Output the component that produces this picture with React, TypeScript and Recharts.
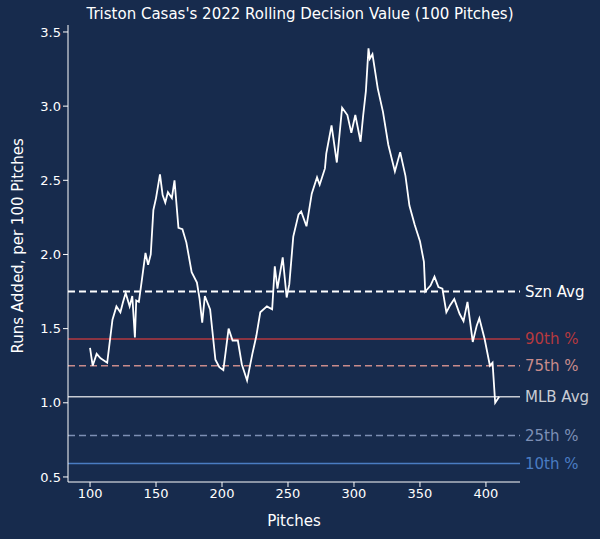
import { LineChart, Line, XAxis, YAxis, ReferenceLine } from "recharts";

const pitches = [100, 101, 102, 105, 108, 113, 117, 120, 123, 125, 127, 130, 132, 134, 135, 137, 139, 142, 144, 146, 148, 150, 153, 155, 157, 159, 162, 164, 167, 170, 173, 177, 181, 183, 185, 187, 191, 195, 198, 201, 205, 208, 212, 215, 219, 223, 226, 229, 234, 238, 240, 242, 246, 249, 251, 254, 258, 260, 264, 268, 272, 274, 278, 279, 283, 287, 291, 295, 298, 301, 305, 307, 309, 311, 312, 314, 318, 322, 326, 331, 335, 339, 342, 346, 350, 353, 354, 358, 361, 364, 367, 370, 373, 376, 380, 383, 386, 390, 393, 395, 399, 403, 405, 407, 410];
const values = [1.37, 1.31, 1.25, 1.33, 1.3, 1.27, 1.56, 1.65, 1.61, 1.68, 1.74, 1.65, 1.72, 1.44, 1.69, 1.68, 1.81, 2.01, 1.93, 2.0, 2.3, 2.38, 2.54, 2.4, 2.35, 2.42, 2.38, 2.5, 2.18, 2.17, 2.08, 1.88, 1.81, 1.7, 1.54, 1.72, 1.63, 1.29, 1.24, 1.22, 1.5, 1.42, 1.42, 1.26, 1.15, 1.33, 1.45, 1.61, 1.65, 1.63, 1.92, 1.77, 1.98, 1.71, 1.8, 2.12, 2.27, 2.29, 2.19, 2.41, 2.52, 2.47, 2.58, 2.68, 2.87, 2.62, 2.99, 2.94, 2.82, 2.94, 2.76, 2.94, 3.1, 3.39, 3.32, 3.35, 3.12, 2.96, 2.74, 2.56, 2.69, 2.53, 2.33, 2.2, 2.09, 1.95, 1.75, 1.79, 1.85, 1.78, 1.77, 1.61, 1.66, 1.7, 1.6, 1.55, 1.68, 1.41, 1.52, 1.57, 1.43, 1.25, 1.27, 1.0, 1.04];

const refNames = ["Szn Avg", "90th %", "75th %", "MLB Avg", "25th %", "10th %"];
const refValues = [1.75, 1.43, 1.25, 1.04, 0.78, 0.59];
const refColors = ["#ffffff", "#b5393f", "#c98b8b", "#c8ccd4", "#7d8fb5", "#4a7cc2"];
const refDashed = [true, false, true, false, true, false];

const xTicks = [100, 150, 200, 250, 300, 350, 400];
const yTicks = [0.5, 1.0, 1.5, 2.0, 2.5, 3.0, 3.5];

const data = pitches.map((p, i) => ({ pitch: p, value: values[i] }));
const BG = "#172b4d";
const FONT = "DejaVu Sans";

export default function App() {
  return (
    <div style={{ position: "absolute", left: 0, top: 0, width: 600, height: 539, background: BG, fontFamily: FONT }}>
      <div style={{ position: "absolute", top: 5, left: 0, width: 600, textAlign: "center", color: "#fff", fontSize: 15 }}>
        Triston Casas's 2022 Rolling Decision Value (100 Pitches)
      </div>
      <LineChart width={600} height={539} data={data} margin={{ top: 25, right: 80, left: 18, bottom: 27 }}>
        <XAxis
          dataKey="pitch"
          type="number"
          domain={[83.3, 425.8]}
          ticks={xTicks}
          stroke="#fff"
          tick={{ fill: "#fff", fontSize: 13 }}
          tickSize={5}
          height={30}
          label={{ value: "Pitches", position: "insideBottom", offset: -14, fill: "#fff", fontSize: 15 }}
        />
        <YAxis
          type="number"
          domain={[0.466, 3.547]}
          ticks={yTicks}
          allowDataOverflow
          tickFormatter={(v: number) => v.toFixed(1)}
          stroke="#fff"
          tick={{ fill: "#fff", fontSize: 13 }}
          tickSize={5}
          width={50}
          label={{ value: "Runs Added, per 100 Pitches", angle: -90, position: "insideLeft", offset: 0, dy: 100, fill: "#fff", fontSize: 15 }}
        />
        {refValues.map((v, i) => (
          <ReferenceLine
            key={refNames[i]}
            y={v}
            stroke={refColors[i]}
            strokeWidth={refDashed[i] && i === 0 ? 2 : 1.5}
            strokeDasharray={refDashed[i] ? "7 4" : undefined}
            ifOverflow="visible"
            label={{ value: refNames[i], position: "right", fill: refColors[i], fontSize: 15 }}
          />
        ))}
        <Line dataKey="value" stroke="#fff" strokeWidth={1.8} dot={false} isAnimationActive={false} />
      </LineChart>
    </div>
  );
}
